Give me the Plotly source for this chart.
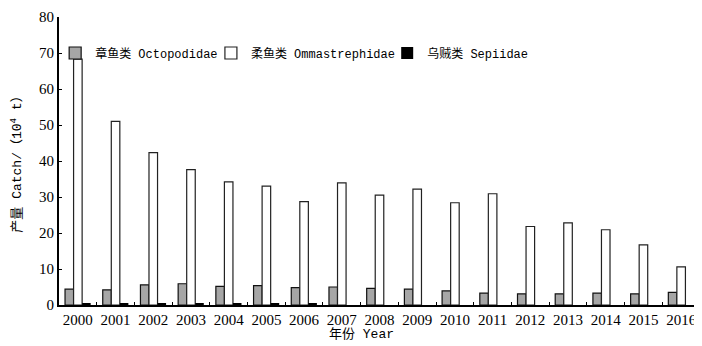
import plotly.graph_objects as go

years = [str(y) for y in range(2000, 2017)]
octopodidae = [4.4, 4.2, 5.6, 5.9, 5.2, 5.4, 4.8, 5.0, 4.6, 4.4, 3.9, 3.3, 3.1, 3.1, 3.3, 3.1, 3.5]
ommastrephidae = [68.3, 51.0, 42.3, 37.6, 34.2, 33.0, 28.7, 33.9, 30.5, 32.2, 28.4, 30.9, 21.8, 22.8, 20.9, 16.7, 10.6]
sepiidae = [0.5, 0.5, 0.5, 0.5, 0.5, 0.5, 0.5, 0, 0, 0, 0, 0, 0, 0, 0, 0, 0]

names = ["章鱼类 Octopodidae", "柔鱼类 Ommastrephidae", "乌贼类 Sepiidae"]
yticks = [0, 10, 20, 30, 40, 50, 60, 70, 80]
x_title = "年份 Year"
y_title = "产量 Catch/（10<sup>4</sup> t）"

fig = go.Figure()
fig.add_trace(go.Bar(x=years, y=octopodidae, name=names[0], legend="legend",
                     marker=dict(color="#a6a6a6", line=dict(color="#111111", width=1.2))))
fig.add_trace(go.Bar(x=years, y=ommastrephidae, name=names[1], legend="legend2",
                     marker=dict(color="#ffffff", line=dict(color="#222222", width=1.2))))
fig.add_trace(go.Bar(x=years, y=sepiidae, name=names[2], legend="legend3",
                     marker=dict(color="#000000", line=dict(color="#000000", width=0))))

serif = "Liberation Serif, Noto Sans CJK SC, serif"
mono = "Liberation Mono, Noto Sans CJK SC, monospace"

def leg(x):
    return dict(orientation="h", x=x, y=0.875, xanchor="left", yanchor="middle",
                font=dict(family=mono, size=12, color="#000000"),
                bgcolor="rgba(0,0,0,0)", itemwidth=30)

fig.update_layout(
    width=694, height=338,
    margin=dict(l=51, r=2, t=9, b=41, autoexpand=False),
    paper_bgcolor="white", plot_bgcolor="white",
    barmode="group", bargap=0.32, bargroupgap=0,
    font=dict(family=serif, color="#000000", size=15),
    showlegend=True,
    legend=leg(-0.006), legend2=leg(0.237), legend3=leg(0.512),
    xaxis=dict(type="category", showline=True, linecolor="#000000", linewidth=2,
               ticks="inside", tickson="boundaries", ticklen=3, tickcolor="#000000",
               showgrid=False, tickangle=0, tickfont=dict(family=serif, size=15)),
    yaxis=dict(range=[0, 80], tickvals=yticks, showline=True, linecolor="#000000", linewidth=2,
               ticks="inside", ticklen=3, tickcolor="#000000", showgrid=False, zeroline=False,
               tickfont=dict(family=serif, size=15),
               title=dict(text=y_title, font=dict(family=mono, size=13), standoff=22)),
    annotations=[dict(text=x_title, xref="paper", yref="paper", x=0.472, y=-0.104,
                      xanchor="center", yanchor="middle", showarrow=False,
                      font=dict(family=mono, size=13, color="#000000"))],
)

fig.write_html("out.html")
